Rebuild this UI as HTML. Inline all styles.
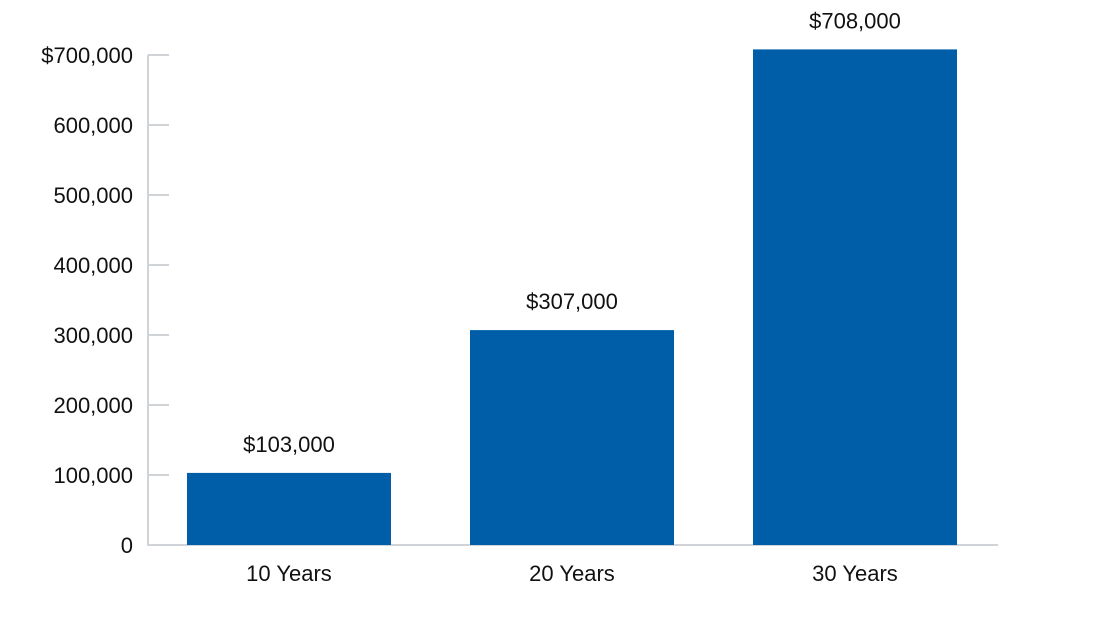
<!DOCTYPE html>
<html><head><meta charset="utf-8"><style>
html,body{margin:0;padding:0;background:#fff;}
svg text{font-family:"Liberation Sans",Arial,sans-serif;fill:#111;}
</style></head><body>
<svg id="chart" width="1100" height="613" viewBox="0 0 1100 613" xmlns="http://www.w3.org/2000/svg"></svg>
<script>
const categories = ["10 Years","20 Years","30 Years"];
const values = [103000,307000,708000];
const valueLabels = ["$103,000","$307,000","$708,000"];
const yTicks = [0,100000,200000,300000,400000,500000,600000,700000];
const yTickLabels = ["0","100,000","200,000","300,000","400,000","500,000","600,000","$700,000"];

const NS="http://www.w3.org/2000/svg";
const svg=document.getElementById('chart');
const y0=545, pxPer=70/100000;
const yScale=v=>y0-v*pxPer;
const xStart=148, band=283, barW=204, firstBarX=187;
const xScale=i=>firstBarX+i*band;
function mk(tag,attrs){const e=document.createElementNS(NS,tag);for(const k in attrs)e.setAttribute(k,attrs[k]);svg.appendChild(e);return e;}

// axes
const ya=mk('line',{x1:xStart,y1:yScale(700000),x2:xStart,y2:y0,stroke:'#d0d3d8','stroke-width':2});


const xa=mk('line',{x1:xStart-1,y1:y0,x2:998,y2:y0,stroke:'#d0d3d8','stroke-width':2});



yTicks.forEach((t,i)=>{
  const y=yScale(t);
  if(t>0){
    const tk=mk('line',{x1:xStart,y1:y,x2:169,y2:y,stroke:'#d0d3d8','stroke-width':2});
    
    
  }
  const lb=mk('text',{x:133,y:y+8,'text-anchor':'end','font-size':22});
  lb.textContent=yTickLabels[i];
  
  
});

categories.forEach((c,i)=>{
  const x=xScale(i), top=yScale(values[i]);
  const r=mk('rect',{x:x,y:top,width:barW,height:y0-top,fill:'#005ea8'});
  
  
  const vl=mk('text',{x:x+barW/2,y:top-21,'text-anchor':'middle','font-size':22});
  vl.textContent=valueLabels[i];
  
  
  const cl=mk('text',{x:x+barW/2,y:581,'text-anchor':'middle','font-size':22});
  cl.textContent=c;
  
  
});
</script>
</body></html>
